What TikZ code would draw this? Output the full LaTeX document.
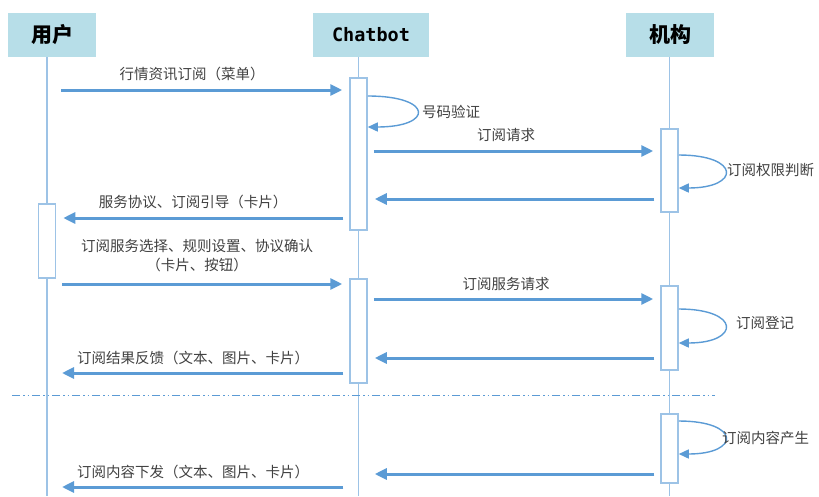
\documentclass[tikz,border=0pt]{standalone}
\usepackage{fontspec}
\setmainfont{Noto Sans CJK SC}
\newfontfamily\cbfont{DejaVu Sans Mono}
\usetikzlibrary{arrows.meta}
\definecolor{headblue}{HTML}{B7DEE8}
\definecolor{lifeblue}{HTML}{9DC3E6}
\definecolor{msgblue}{HTML}{5B9BD5}
\definecolor{txtgray}{HTML}{404040}

\begin{document}
\begin{tikzpicture}[x=1pt,y=-1pt,
  head/.style={fill=headblue, minimum height=44pt, inner sep=0pt, font=\fontsize{21}{25}\selectfont\bfseries},
  life/.style={draw=lifeblue, line width=1.5pt},
  act/.style={draw=lifeblue, fill=white, line width=1.5pt, minimum width=17pt, inner sep=0pt, anchor=north},
  msg/.style={draw=msgblue, line width=3pt, shorten <=6pt, shorten >=7pt, -{Triangle[length=12pt,width=11pt]}},
  loopmsg/.style={draw=msgblue, line width=1.4pt, -{Triangle[length=10pt,width=9pt]}},
  lbl/.style={text=txtgray, inner sep=0pt, font=\fontsize{14.5}{19}\selectfont}]
\useasboundingbox (0,0) rectangle (819,496);

\node[head, minimum width=88pt] (user) at (52,35) {用户};
\node[head, minimum width=116pt, font=\fontsize{18.5}{22}\selectfont\cbfont\bfseries] (bot) at (371,35) {Chatbot};
\node[head, minimum width=88pt] (org) at (670,35) {机构};

\coordinate (ut) at (47,57);
\coordinate (ub) at (47,496);
\coordinate (bt) at (358.5,57);
\coordinate (bb) at (358.5,496);
\coordinate (ot) at (669.5,57);
\coordinate (ob) at (669.5,496);
\path[life] (ut) -- (ub);
\path[life] (bt) -- (bb);
\path[life] (ot) -- (ob);

\node[act, minimum height=152pt] (b1) at (358.5,77) {};
\node[act, minimum height=104pt] (b2) at (358.5,278) {};
\node[act, minimum height=74pt] (u1) at (47,203) {};
\node[act, minimum height=83pt] (o1) at (669.5,128) {};
\node[act, minimum height=84pt] (o2) at (669.5,285) {};
\node[act, minimum height=69pt] (o3) at (669.5,413) {};

\coordinate (sepl) at (12,395);
\coordinate (sepr) at (715,395);
\path[draw=msgblue, line width=1pt, dash pattern=on 8pt off 3pt on 1.5pt off 3pt on 1.5pt off 3pt] (sepl) -- (sepr);

\coordinate (m1) at (55,90);
\path[msg] (m1) -- (b1.west |- m1);
\node[lbl] (l1) at (192,74) {行情资讯订阅（菜单）};

\path[loopmsg] (b1.east |- 0,96) .. controls +(66,0) and +(66,0) .. (b1.east |- 0,127);
\node[lbl, anchor=west] (l2) at (422,112) {号码验证};

\path[msg] (b1.east |- 0,151) -- (o1.west |- 0,151);
\node[lbl] (l3) at (506,135) {订阅请求};

\path[loopmsg] (o1.east |- 0,155) .. controls +(62,0) and +(62,0) .. (o1.east |- 0,188);
\node[lbl, anchor=west] (l4) at (727,170) {订阅权限判断};

\path[msg] (o1.west |- 0,199) -- (b1.east |- 0,199);

\path[msg] (b1.west |- 0,218) -- (u1.east |- 0,218);
\node[lbl] (l6) at (193,202) {服务协议、订阅引导（卡片）};

\path[msg] (u1.east |- 0,284) -- (b2.west |- 0,284);
\node[lbl, align=center] (l7) at (197,256) {订阅服务选择、规则设置、协议确认\\（卡片、按钮）};

\path[msg] (b2.east |- 0,299) -- (o2.west |- 0,299);
\node[lbl] (l8) at (506,284) {订阅服务请求};

\path[loopmsg] (o2.east |- 0,309) .. controls +(62,0) and +(62,0) .. (o2.east |- 0,343);
\node[lbl, anchor=west] (l9) at (736,323) {订阅登记};

\path[msg] (o2.west |- 0,358) -- (b2.east |- 0,358);

\coordinate (m11) at (55,373);
\path[msg] (b2.west |- m11) -- (m11);
\node[lbl] (l11) at (193,358) {订阅结果反馈（文本、图片、卡片）};

\path[loopmsg] (o3.east |- 0,421) .. controls +(62,0) and +(62,0) .. (o3.east |- 0,454);
\node[lbl, anchor=west] (l12) at (722,438) {订阅内容产生};

\path[msg] (o3.west |- 0,474) -- (b1.east |- 0,474);

\coordinate (m14) at (55,487);
\path[msg] (b1.west |- m14) -- (m14);
\node[lbl] (l14) at (193,472) {订阅内容下发（文本、图片、卡片）};
\end{tikzpicture}
\end{document}
